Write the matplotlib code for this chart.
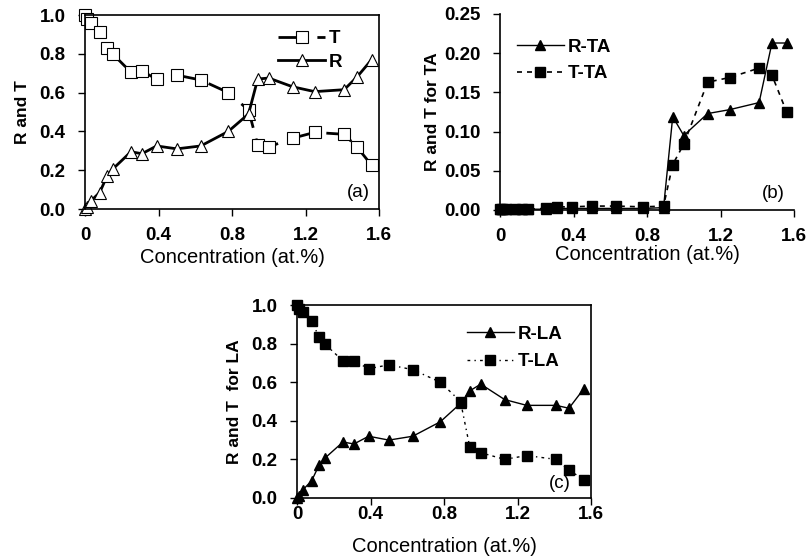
import matplotlib.pyplot as plt
import numpy as np

plt.rcParams['font.family'] = ['Liberation Sans', 'DejaVu Sans']

# concentration values (at.%)
conc = [0.0, 0.01, 0.03, 0.08, 0.12, 0.15, 0.25, 0.31, 0.39, 0.50,
        0.63, 0.78, 0.89, 0.94, 1.00, 1.13, 1.25, 1.41, 1.48, 1.56]

# panel (a)
t_a = [1.00, 0.98, 0.96, 0.91, 0.83, 0.80, 0.705, 0.71, 0.67, 0.69,
       0.665, 0.60, 0.51, 0.33, 0.32, 0.365, 0.395, 0.385, 0.32, 0.225]
r_a = [0.00, 0.01, 0.04, 0.085, 0.17, 0.205, 0.295, 0.285, 0.325, 0.31,
       0.325, 0.40, 0.49, 0.67, 0.675, 0.63, 0.605, 0.615, 0.68, 0.77]

# panel (b)
r_ta = [0.001, 0.001, 0.001, 0.001, 0.001, 0.001, 0.001, 0.002, 0.002, 0.002,
        0.002, 0.002, 0.003, 0.119, 0.095, 0.123, 0.128, 0.137, 0.213, 0.213]
t_ta = [0.001, 0.001, 0.001, 0.001, 0.001, 0.001, 0.002, 0.004, 0.004, 0.005,
        0.005, 0.004, 0.005, 0.058, 0.084, 0.163, 0.169, 0.181, 0.172, 0.125]

# panel (c)
r_la = [0.00, 0.01, 0.04, 0.09, 0.17, 0.205, 0.29, 0.28, 0.32, 0.30,
        0.32, 0.395, 0.49, 0.555, 0.59, 0.51, 0.48, 0.48, 0.465, 0.565]
t_la = [1.00, 0.98, 0.965, 0.915, 0.835, 0.80, 0.71, 0.71, 0.67, 0.69,
        0.665, 0.60, 0.50, 0.265, 0.235, 0.20, 0.22, 0.20, 0.145, 0.095]

xticks = [0, 0.4, 0.8, 1.2, 1.6]
xtick_labels = ['0', '0.4', '0.8', '1.2', '1.6']

W, H = 809, 558
fig = plt.figure(figsize=(W / 100, H / 100), dpi=100)

FS = 13.5


def make_axes(left, top, right, bottom):
    return fig.add_axes([left / W, 1 - bottom / H, (right - left) / W, (bottom - top) / H])


def style_axes(ax, yticks, ylabels, ylabel, xpad, ylab_x, xlab_y, box=True):
    ax.set_xlim(0, 1.6)
    ax.set_xticks(xticks)
    ax.set_xticklabels(xtick_labels, fontsize=FS, fontweight='bold')
    ax.set_yticks(yticks)
    ax.set_yticklabels(ylabels, fontsize=FS, fontweight='bold')
    ax.set_ylim(yticks[0], yticks[-1])
    ax.tick_params(direction='out', length=5, width=1)
    ax.tick_params(axis='x', pad=xpad)
    ax.tick_params(axis='y', pad=9)
    for s in ax.spines.values():
        s.set_linewidth(1.2)
    if not box:
        ax.spines['top'].set_visible(False)
        ax.spines['right'].set_visible(False)
    ax.set_xlabel('Concentration (at.%)', fontsize=14.5)
    ax.set_ylabel(ylabel, fontsize=12.5, fontweight='bold')
    ax.xaxis.set_label_coords(0.5, xlab_y)
    ax.yaxis.set_label_coords(ylab_x, 0.5)


leg_kw = dict(frameon=False, prop={'weight': 'bold', 'size': FS},
              handlelength=2.5, handletextpad=0.2)

# (a)
ax1 = make_axes(85, 15, 379, 209)
ax1.plot(conc, t_a, color='black', lw=2, ls=(0, (10, 4)), marker='s', ms=8,
         mfc='white', mec='black', mew=0.8, clip_on=False, label='T')
ax1.plot(conc, r_a, color='black', lw=2, marker='^', ms=9,
         mfc='white', mec='black', mew=0.8, clip_on=False, label='R')
style_axes(ax1, [0, 0.2, 0.4, 0.6, 0.8, 1.0],
           ['0.0', '0.2', '0.4', '0.6', '0.8', '1.0'], 'R and T',
           xpad=8, ylab_x=-0.187, xlab_y=-0.20)
ax1.legend(loc='upper right', bbox_to_anchor=(0.92, 0.99), borderaxespad=0.3,
           labelspacing=0.35, **leg_kw)
ax1.text(0.97, 0.04, '(a)', transform=ax1.transAxes, ha='right', va='bottom', fontsize=FS)

# (b)
ax2 = make_axes(500, 14, 794, 210)
ax2.plot(conc, r_ta, color='black', lw=1, marker='^', ms=7,
         clip_on=False, label='R-TA')
ax2.plot(conc, t_ta, color='black', lw=1.2, ls=(0, (3, 3)), marker='s', ms=6.5,
         clip_on=False, label='T-TA')
style_axes(ax2, [0, 0.05, 0.10, 0.15, 0.20, 0.25],
           ['0.00', '0.05', '0.10', '0.15', '0.20', '0.25'], 'R and T for TA',
           xpad=8, ylab_x=-0.204, xlab_y=-0.179, box=False)
ax2.legend(loc='upper left', bbox_to_anchor=(0.0, 0.96), borderaxespad=0.5,
           labelspacing=0.5, **leg_kw)
ax2.text(0.97, 0.04, '(b)', transform=ax2.transAxes, ha='right', va='bottom', fontsize=FS)

# (c)
ax3 = make_axes(297, 305, 591, 498)
ax3.plot(conc, r_la, color='black', lw=1, marker='^', ms=7,
         clip_on=False, label='R-LA')
ax3.plot(conc, t_la, color='black', lw=1, ls=(0, (2, 3, 1, 3)), marker='s', ms=7,
         clip_on=False, label='T-LA')
style_axes(ax3, [0, 0.2, 0.4, 0.6, 0.8, 1.0],
           ['0.0', '0.2', '0.4', '0.6', '0.8', '1.0'], 'R and T  for LA',
           xpad=1, ylab_x=-0.187, xlab_y=-0.20)
ax3.legend(loc='upper right', bbox_to_anchor=(0.96, 0.98), borderaxespad=0.5,
           labelspacing=0.55, **leg_kw)
ax3.text(0.93, 0.03, '(c)', transform=ax3.transAxes, ha='right', va='bottom', fontsize=FS)

fig.savefig('out.png', dpi=100)
